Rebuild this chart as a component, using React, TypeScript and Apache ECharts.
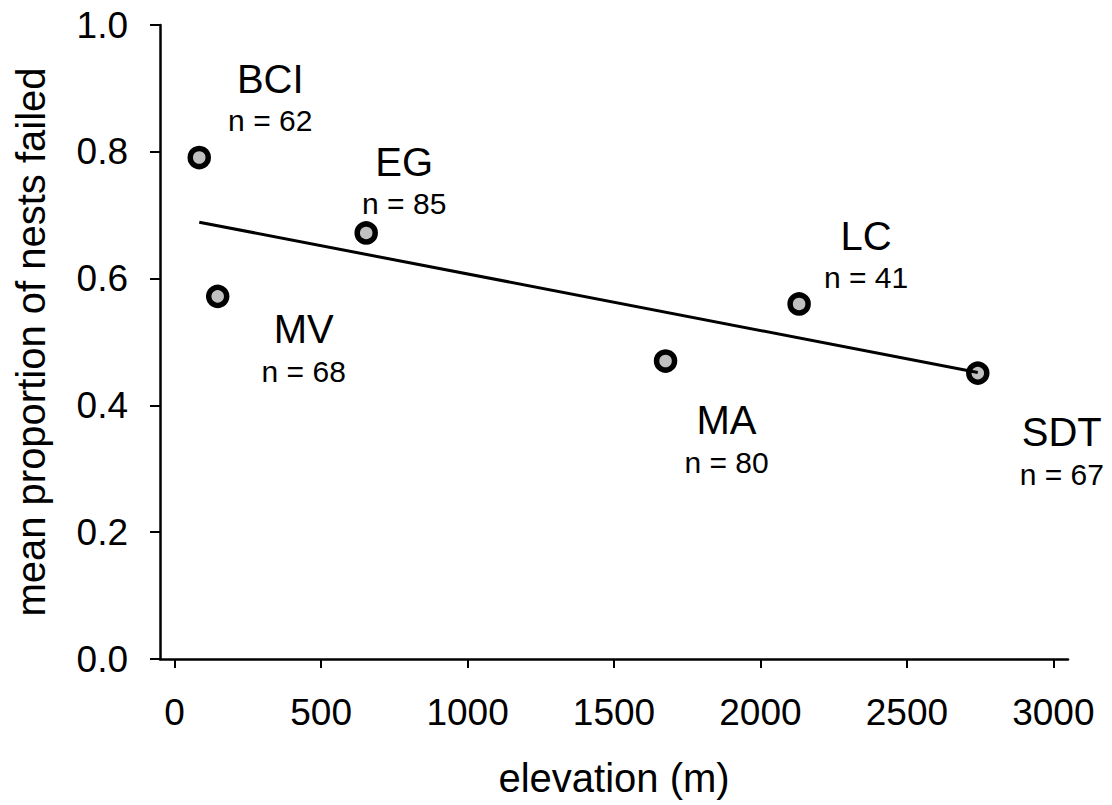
import React, { useEffect, useRef } from "react";
import * as echarts from "echarts";

const sites = ["BCI", "MV", "EG", "MA", "LC", "SDT"];
const elevation = [84, 147, 654, 1676, 2132, 2742];
const proportionFailed = [0.791, 0.572, 0.672, 0.47, 0.56, 0.451];
const nestCounts = [62, 68, 85, 80, 41, 67];
const xTicks = [0, 500, 1000, 1500, 2000, 2500, 3000];
const trendElevation = [84, 2742];
const trendProportion = [0.689, 0.452];

// label placement (pixels, relative to each point)
const labelOffsets: Record<string, [number, number]> = {
  BCI: [71, -60],
  MV: [86, 52],
  EG: [38, -52],
  MA: [61, 78],
  LC: [67, -49],
  SDT: [84, 78],
};

const FONT = "'Liberation Sans', Arial, Helvetica, sans-serif";

export default function App() {
  const ref = useRef<HTMLDivElement>(null);
  useEffect(() => {
    if (!ref.current) return;
    const chart = echarts.init(ref.current, null, { renderer: "svg" });
    const scatterData = sites.map((s, i) => ({
      name: s,
      value: [elevation[i], proportionFailed[i]],
      label: {
        show: true,
        position: "inside",
        offset: labelOffsets[s],
        formatter: `{a|${s}}\n{b|n = ${nestCounts[i]}}`,
        rich: {
          a: { fontSize: 40, lineHeight: 46, fontFamily: FONT, color: "#000", align: "center" },
          b: { fontSize: 30, lineHeight: 38, fontFamily: FONT, color: "#000", align: "center" },
        },
      },
    }));
    chart.setOption({
      animation: false,
      backgroundColor: "#fff",
      grid: { left: 160, top: 25, right: 44, bottom: 146, containLabel: false },
      xAxis: {
        type: "value",
        min: -50,
        max: 3050,
        name: "elevation (m)",
        nameLocation: "middle",
        nameGap: 99,
        nameTextStyle: { fontSize: 40, fontFamily: FONT, color: "#000" },
        axisLine: { show: true, onZero: false, lineStyle: { color: "#000", width: 2.5 } },
        axisTick: { show: true, customValues: xTicks, length: 9, lineStyle: { color: "#000", width: 2 } },
        axisLabel: {
          customValues: xTicks,
          fontSize: 37,
          fontFamily: FONT,
          color: "#000",
          margin: 35,
          formatter: (v: number) => String(v),
        },
        splitLine: { show: false },
      },
      yAxis: {
        type: "value",
        min: 0,
        max: 1,
        interval: 0.2,
        name: "mean proportion of nests failed",
        nameLocation: "middle",
        nameGap: 109,
        nameTextStyle: { fontSize: 40, fontFamily: FONT, color: "#000" },
        axisLine: { show: true, onZero: false, lineStyle: { color: "#000", width: 2.5 } },
        axisTick: { show: true, length: 10, lineStyle: { color: "#000", width: 2 } },
        axisLabel: {
          fontSize: 37,
          fontFamily: FONT,
          color: "#000",
          margin: 32,
          formatter: (v: number) => v.toFixed(1),
        },
        splitLine: { show: false },
      },
      series: [
        {
          type: "scatter",
          z: 2,
          symbol: "circle",
          symbolSize: 18,
          itemStyle: { color: "#c0c0c0", borderColor: "#000", borderWidth: 5.5, opacity: 1 },
          data: scatterData,
        },
        {
          type: "line",
          z: 3,
          symbol: "none",
          lineStyle: { color: "#000", width: 3 },
          data: trendElevation.map((x, i) => [x, trendProportion[i]]),
        },
      ],
    });
    return () => chart.dispose();
  }, []);
  return (
    <div
      ref={ref}
      style={{ position: "fixed", left: 0, top: 0, width: 1112, height: 805, background: "#fff" }}
    />
  );
}
